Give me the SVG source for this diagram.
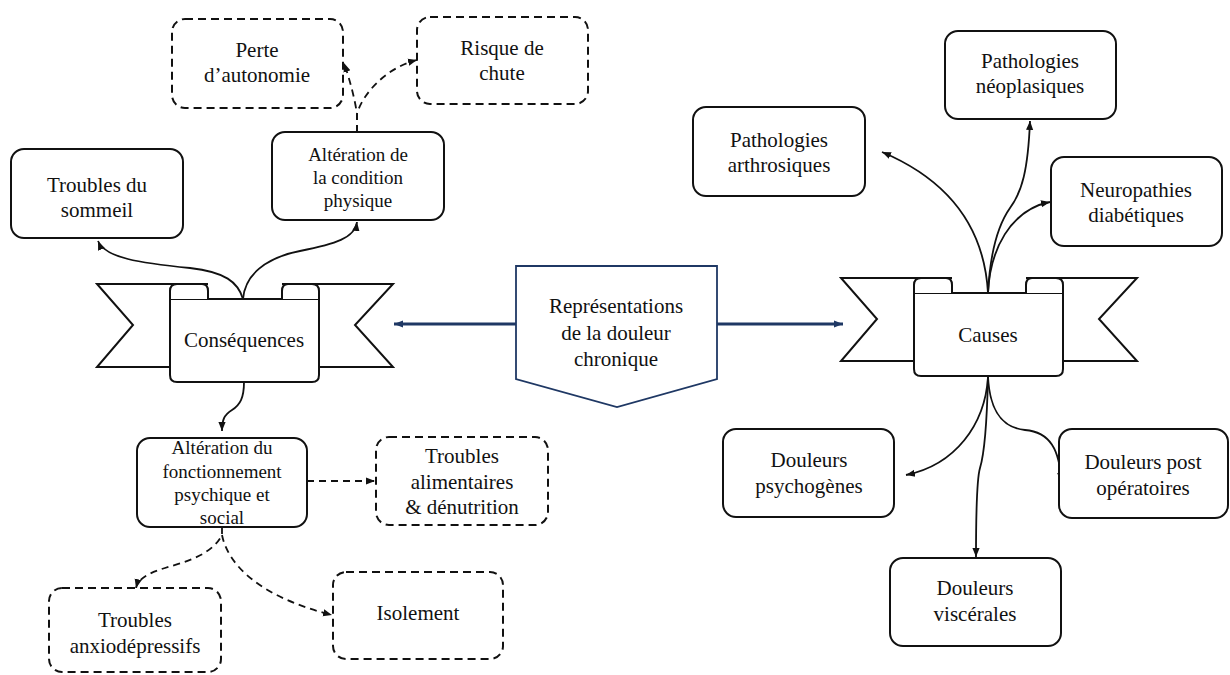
<svg xmlns="http://www.w3.org/2000/svg" xmlns:xlink="http://www.w3.org/1999/xlink" width="1230" height="675" viewBox="0 0 1230 675">
<style>
  text { font-family: "Liberation Serif", Tinos, "Noto Serif", "DejaVu Serif", "Times New Roman", Times, serif; fill: #111; text-anchor: middle; }
  .t21 { font-size: 21px; }
  .t19 { font-size: 19px; }
  .box { fill: #fff; stroke: #111; stroke-width: 2; }
  .dbox { fill: #fff; stroke: #111; stroke-width: 2; stroke-dasharray: 8 5; }
  .rib { fill: #fff; stroke: #111; stroke-width: 2; stroke-linejoin: miter; }
  .con { fill: none; stroke: #111; stroke-width: 1.8; }
  .dcon { fill: none; stroke: #111; stroke-width: 1.8; stroke-dasharray: 7 5; }
  .navy { fill: none; stroke: #1f3864; stroke-width: 3; }
</style>
<defs>
  <marker id="ah" viewBox="0 0 10 10" refX="10" refY="5" markerWidth="9" markerHeight="9" markerUnits="userSpaceOnUse" orient="auto">
    <path d="M0 1 L10 5 L0 9 Z" fill="#111" stroke="none"/>
  </marker>
  <marker id="ahn" viewBox="0 0 10 10" refX="10" refY="5" markerWidth="10" markerHeight="9" markerUnits="userSpaceOnUse" orient="auto">
    <path d="M0 1 L10 5 L0 9 Z" fill="#1f3864" stroke="none"/>
  </marker>
  <g id="ribbon">
    <path class="rib" d="M208 284 L97 284 L133 325 L97 367 L170 367"/>
    <path class="rib" d="M282 284 L393 284 L355 325 L393 367 L319 367"/>
    <path class="rib" d="M170 299 L170 375 Q170 382 177 382 L312 382 Q319 382 319 375 L319 299 Z"/>
    <path class="rib" d="M170 299 L170 291 Q170 284 177 284 L202 284 Q208 284 208 291 L208 299"/>
    <path class="rib" d="M319 299 L319 291 Q319 284 312 284 L288 284 Q282 284 282 291 L282 299"/>
  </g>
</defs>
<rect width="1230" height="675" fill="#fff"/>

<g id="connectors">
  <path class="navy" d="M516 324 L394 324" marker-end="url(#ahn)"/>
  <path class="navy" d="M717 324 L843 324" marker-end="url(#ahn)"/>
  <path class="con" d="M243 299 C238 282 225 272 190 268 C140 263 105 258 98 241" marker-end="url(#ah)"/>
  <path class="con" d="M243 299 C245 275 265 258 300 251 C335 244 355 238 357 222" marker-end="url(#ah)"/>
  <path class="con" d="M244 382 C244 398 240 405 232 410 C224 415 222 420 222 431" marker-end="url(#ah)"/>
  <path class="dcon" d="M357 132 L357 114 C355 100 350 80 344 63" marker-end="url(#ah)"/>
  <path class="dcon" d="M357 132 L357 114 C362 95 385 68 417 60" marker-end="url(#ah)"/>
  <path class="dcon" d="M307 481 L375 481" marker-end="url(#ah)"/>
  <path class="dcon" d="M222 527 L222 535 C212 555 185 562 165 568 C145 574 138 580 136 588" marker-end="url(#ah)"/>
  <path class="dcon" d="M222 535 C228 565 260 597 332 615" marker-end="url(#ah)"/>
  <path class="con" d="M988 293 C985 240 960 185 882 152" marker-end="url(#ah)"/>
  <path class="con" d="M988 293 C990 255 998 225 1010 208 C1022 192 1028 170 1030 121" marker-end="url(#ah)"/>
  <path class="con" d="M988 293 C990 250 1010 210 1050 202" marker-end="url(#ah)"/>
  <path class="con" d="M988 377 C985 425 955 465 906 475" marker-end="url(#ah)"/>
  <path class="con" d="M988 377 C987 420 984 455 980 468 C977 478 976 500 976 557" marker-end="url(#ah)"/>
  <path class="con" d="M988 377 C990 415 1005 428 1025 430 C1050 432 1060 450 1061 482" marker-end="url(#ah)"/>
</g>

<g id="n-representations">
  <path d="M516 266 L717 266 L717 379 L617 407 L516 379 Z" fill="#fff" stroke="#1f3864" stroke-width="1.8"/>
  <text class="t21" x="616" y="313">Représentations</text>
  <text class="t21" x="616" y="340">de la douleur</text>
  <text class="t21" x="616" y="366">chronique</text>
</g>

<g id="n-consequences">
  <use href="#ribbon" xlink:href="#ribbon"/>
  <text class="t21" x="244" y="347">Conséquences</text>
</g>

<g id="n-causes">
  <use href="#ribbon" xlink:href="#ribbon" transform="translate(744,-6)"/>
  <text class="t21" x="988" y="342">Causes</text>
</g>

<g id="n-troubles-sommeil">
  <rect class="box" x="11" y="149" width="172" height="89" rx="13"/>
  <text class="t21" x="97" y="192">Troubles du</text>
  <text class="t21" x="97" y="217">sommeil</text>
</g>

<g id="n-alteration-physique">
  <rect class="box" x="272" y="132" width="172" height="88" rx="13"/>
  <text class="t19" x="358" y="161">Altération de</text>
  <text class="t19" x="358" y="184">la condition</text>
  <text class="t19" x="358" y="207">physique</text>
</g>

<g id="n-perte-autonomie">
  <rect class="dbox" x="172" y="19" width="171" height="89" rx="13"/>
  <text class="t21" x="257" y="57">Perte</text>
  <text class="t21" x="257" y="82">d’autonomie</text>
</g>

<g id="n-risque-chute">
  <rect class="dbox" x="417" y="17" width="171" height="87" rx="13"/>
  <text class="t21" x="502" y="55">Risque de</text>
  <text class="t21" x="502" y="80">chute</text>
</g>

<g id="n-alteration-psychique">
  <rect class="box" x="137" y="438" width="170" height="89" rx="13"/>
  <text class="t19" x="222" y="454">Altération du</text>
  <text class="t19" x="222" y="478">fonctionnement</text>
  <text class="t19" x="222" y="501">psychique et</text>
  <text class="t19" x="222" y="524">social</text>
</g>

<g id="n-troubles-alimentaires">
  <rect class="dbox" x="376" y="437" width="172" height="88" rx="13"/>
  <text class="t21" x="462" y="463">Troubles</text>
  <text class="t21" x="462" y="489">alimentaires</text>
  <text class="t21" x="462" y="514">&amp; dénutrition</text>
</g>

<g id="n-troubles-anxiodepressifs">
  <rect class="dbox" x="49" y="588" width="172" height="84" rx="13"/>
  <text class="t21" x="135" y="627">Troubles</text>
  <text class="t21" x="135" y="653">anxiodépressifs</text>
</g>

<g id="n-isolement">
  <rect class="dbox" x="333" y="572" width="170" height="87" rx="13"/>
  <text class="t21" x="418" y="620">Isolement</text>
</g>

<g id="n-pathologies-arthrosiques">
  <rect class="box" x="693" y="107" width="172" height="89" rx="13"/>
  <text class="t21" x="779" y="147">Pathologies</text>
  <text class="t21" x="779" y="172">arthrosiques</text>
</g>

<g id="n-pathologies-neoplasiques">
  <rect class="box" x="945" y="31" width="171" height="88" rx="13"/>
  <text class="t21" x="1030" y="68">Pathologies</text>
  <text class="t21" x="1030" y="93">néoplasiques</text>
</g>

<g id="n-neuropathies">
  <rect class="box" x="1051" y="157" width="171" height="89" rx="13"/>
  <text class="t21" x="1136" y="197">Neuropathies</text>
  <text class="t21" x="1136" y="222">diabétiques</text>
</g>

<g id="n-douleurs-psychogenes">
  <rect class="box" x="723" y="429" width="171" height="88" rx="13"/>
  <text class="t21" x="809" y="467">Douleurs</text>
  <text class="t21" x="809" y="493">psychogènes</text>
</g>

<g id="n-douleurs-viscerales">
  <rect class="box" x="890" y="558" width="171" height="88" rx="13"/>
  <text class="t21" x="975" y="595">Douleurs</text>
  <text class="t21" x="975" y="621">viscérales</text>
</g>

<g id="n-douleurs-postop">
  <rect class="box" x="1059" y="429" width="169" height="89" rx="13"/>
  <text class="t21" x="1143" y="469">Douleurs post</text>
  <text class="t21" x="1143" y="495">opératoires</text>
</g>
</svg>
